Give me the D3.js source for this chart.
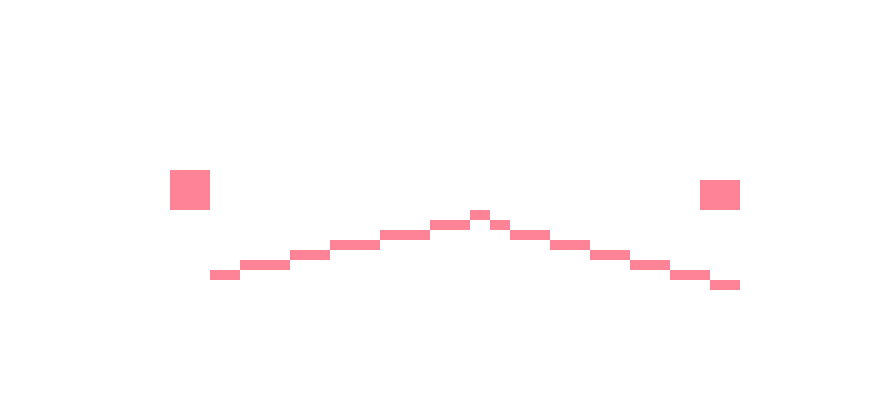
<!DOCTYPE html>
<html>
<head>
<meta charset="utf-8">
<script src="https://cdn.jsdelivr.net/npm/d3@7"></script>
<style>
  html, body { margin: 0; padding: 0; background: #fff; }
  svg { display: block; }
  .celula { fill: #ff8397; shape-rendering: crispEdges; }
</style>
</head>
<body>
<svg id="grafico"></svg>
<script>
// grade de células (coluna/linha)
const colunaInicio = [21, 24, 29, 33, 38, 43, 47, 49, 51, 55, 59, 63, 67, 71];
const colunaFim    = [24, 29, 33, 38, 43, 47, 49, 51, 55, 59, 63, 67, 71, 74];
const linhaTraco   = [27, 26, 25, 24, 23, 22, 21, 22, 23, 24, 25, 26, 27, 28];

// blocos das extremidades
const blocoColIni = [17, 70];
const blocoColFim = [21, 74];
const blocoLinIni = [17, 18];
const blocoLinFim = [21, 21];

const largura = 890;
const altura = 410;
const nColunas = 89;
const nLinhas = 41;

const svg = d3.select('#grafico').attr('width', largura).attr('height', altura);

const x = d3.scaleLinear().domain([0, nColunas]).range([0, largura]);
const y = d3.scaleLinear().domain([0, nLinhas]).range([0, altura]);

const traco = colunaInicio.map((c, i) => ({ c0: c, c1: colunaFim[i], l0: linhaTraco[i], l1: linhaTraco[i] + 1 }));
const blocos = blocoColIni.map((c, i) => ({ c0: c, c1: blocoColFim[i], l0: blocoLinIni[i], l1: blocoLinFim[i] }));

const plotagem = svg.append('g').attr('id', 'plotagem');

plotagem.selectAll('.celula')
    .data(blocos.concat(traco))
    .enter().append('rect')
    .classed('celula', true)
    .attr('x', d => x(d.c0))
    .attr('y', d => y(d.l0))
    .attr('width', d => x(d.c1) - x(d.c0))
    .attr('height', d => y(d.l1) - y(d.l0));
</script>
</body>
</html>
